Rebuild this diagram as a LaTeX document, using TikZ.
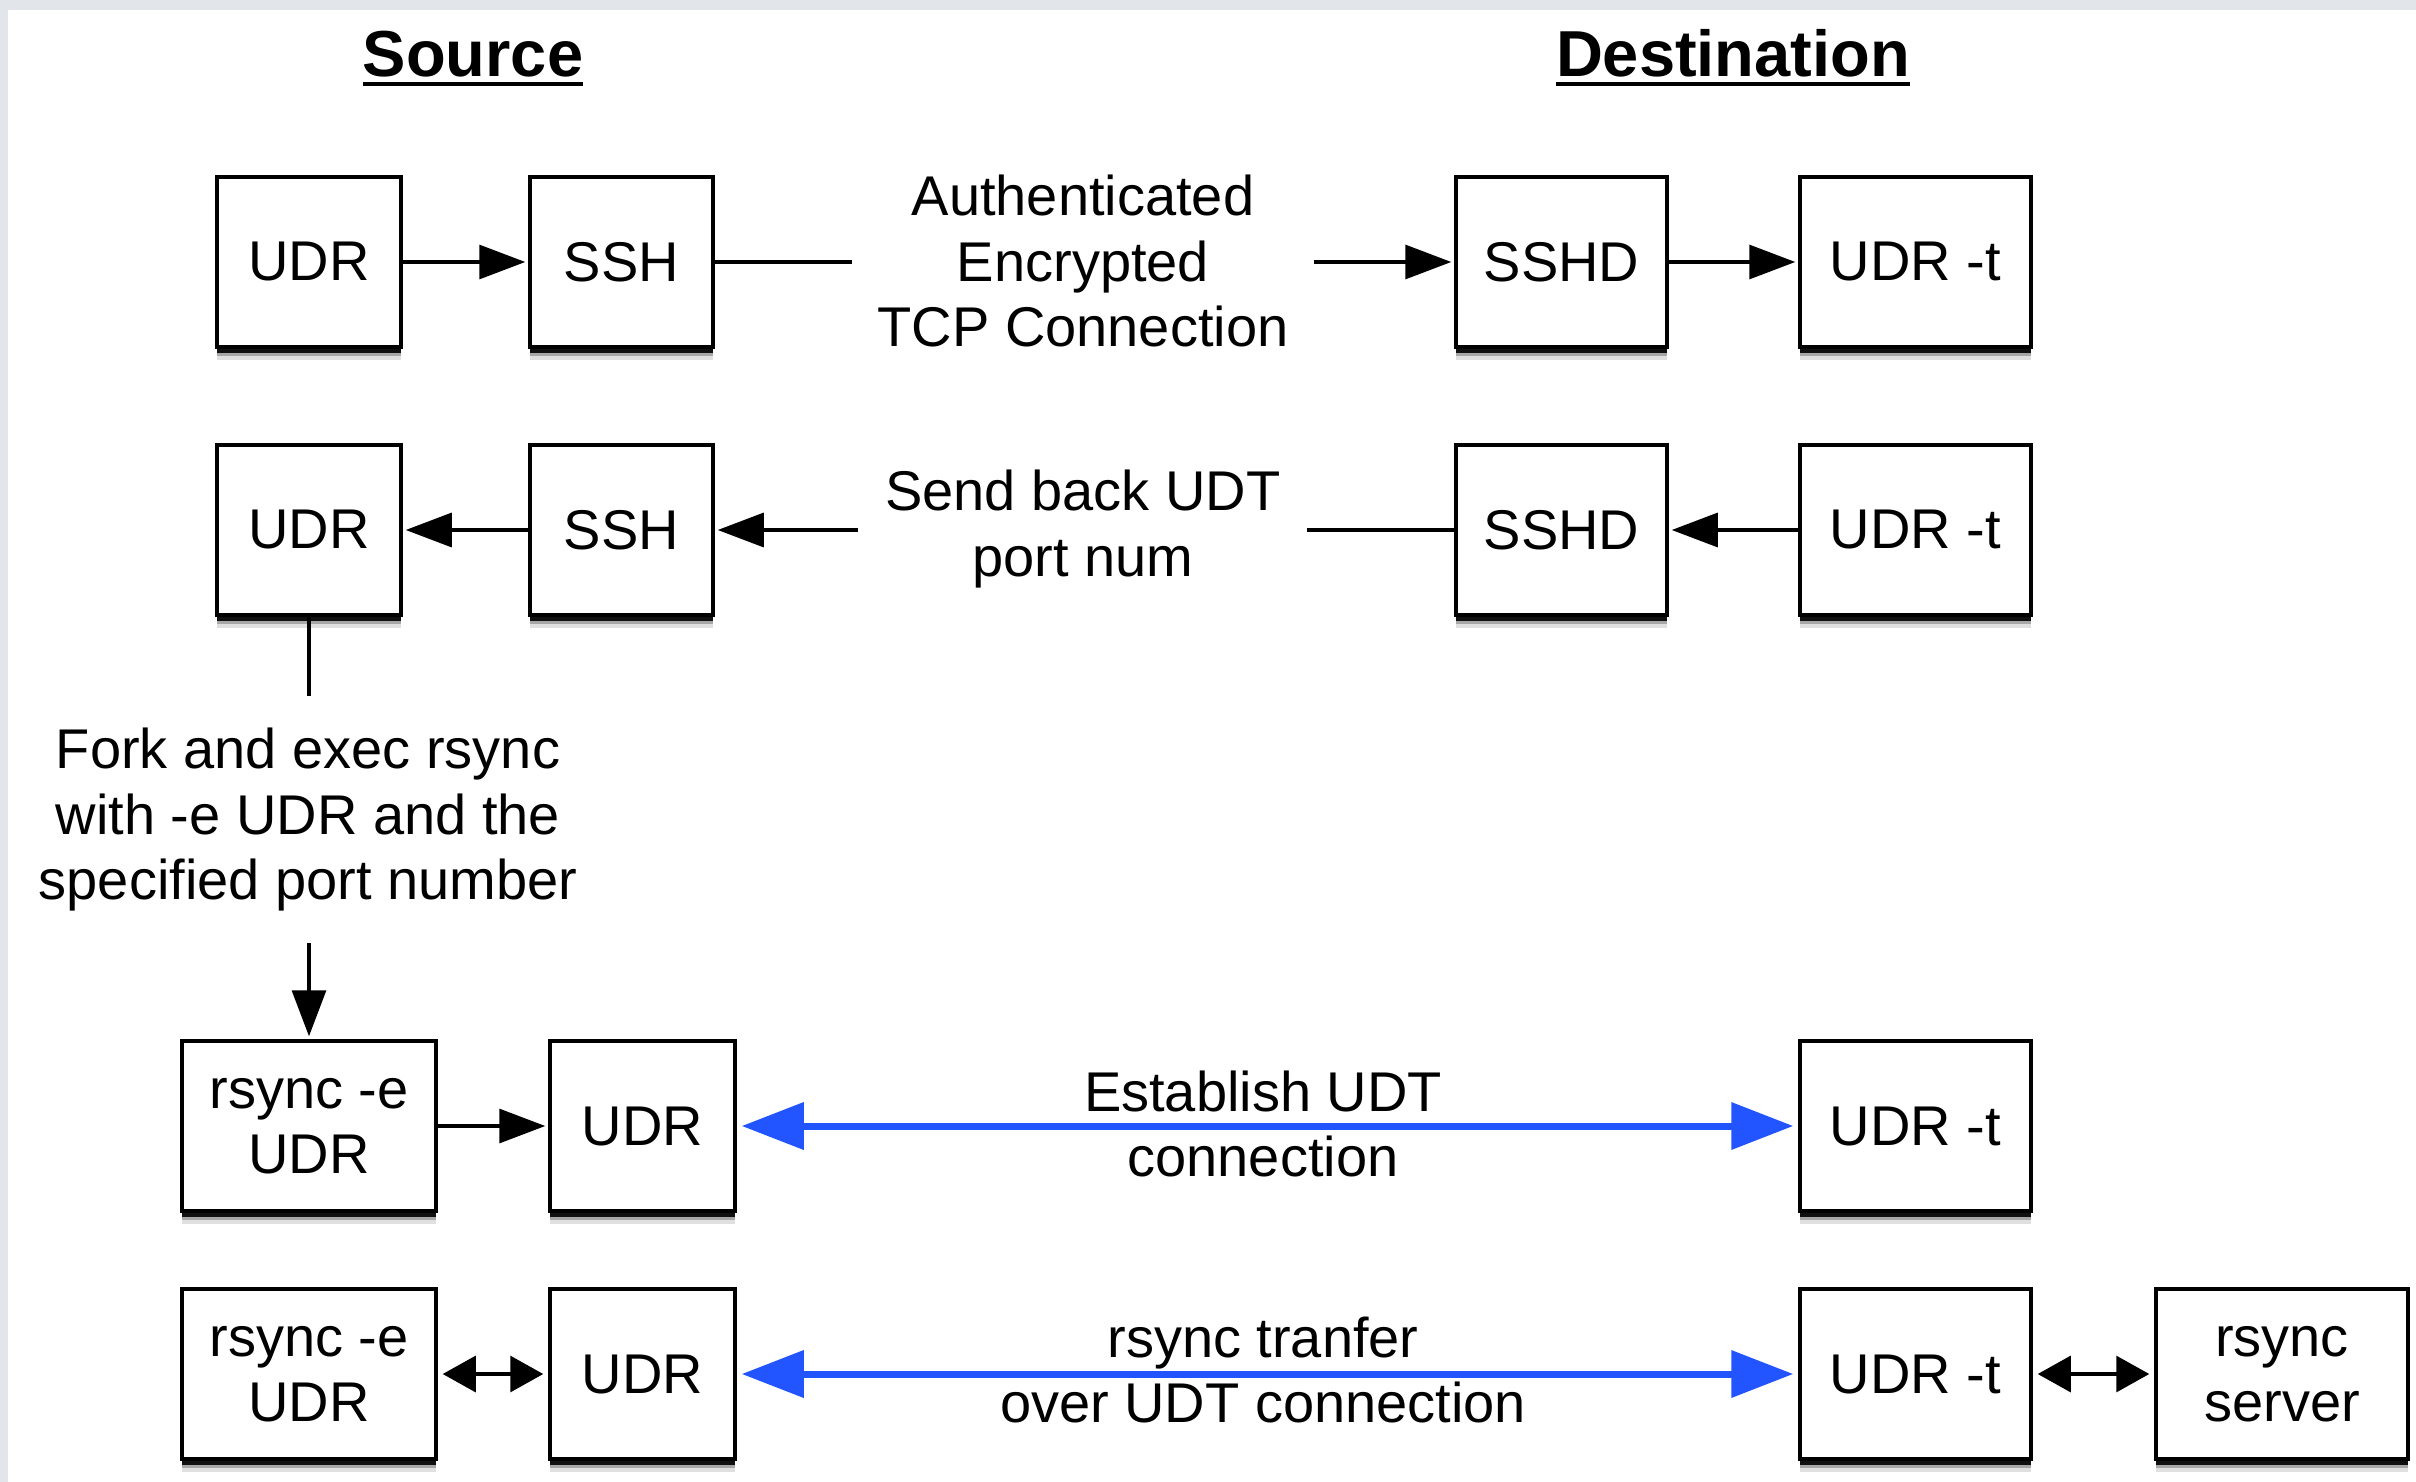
\documentclass[tikz,border=0pt]{standalone}
\usepackage{fontspec}
\setmainfont{Liberation Sans}
\usetikzlibrary{arrows.meta,shadows,calc}
\definecolor{udtblue}{RGB}{34,85,255}
\definecolor{bggray}{RGB}{226,229,234}
\begin{document}
\begin{tikzpicture}[x=1pt,y=-1pt,
  box/.style={draw, line width=3.5pt, fill=white, minimum height=170pt, inner sep=0pt,
    font=\fontsize{56}{65}\selectfont, align=center,
    drop shadow={shadow xshift=0pt,shadow yshift=-13pt,fill=black,opacity=0.12},
    drop shadow={shadow xshift=0pt,shadow yshift=-9pt,fill=black,opacity=0.25},
    drop shadow={shadow xshift=0pt,shadow yshift=-5.5pt,fill=black,opacity=0.9}},
  lbl/.style={font=\fontsize{56}{65.5}\selectfont, align=center, inner sep=0pt},
  title/.style={font=\fontsize{65}{78}\selectfont\bfseries, inner sep=0pt, anchor=base},
  conn/.style={line width=3.2pt},
  arr/.style={conn, -{Triangle[length=46pt,width=34pt]}, shorten >=3pt},
  darr/.style={conn, {Triangle[length=33pt,width=36pt]}-{Triangle[length=33pt,width=36pt]}, shorten >=5pt, shorten <=5pt},
  barr/.style={line width=7pt, udtblue, {Triangle[length=62pt,width=46pt]}-{Triangle[length=62pt,width=46pt]}, shorten >=5pt, shorten <=5pt}
]
\fill[bggray] (0,0) rectangle (2416,1482);
\fill[white] (8,10) rectangle (2416,1482);
\useasboundingbox (0,0) rectangle (2416,1482);

% titles
\node[title] (src) at (473,77) {Source};
\node[title] (dst) at (1733,77) {Destination};
\draw[line width=4pt] ($(src.base west)+(0,7)$) -- ($(src.base east)+(0,7)$);
\draw[line width=4pt] ($(dst.base west)+(0,7)$) -- ($(dst.base east)+(0,7)$);

% row 1
\node[box, minimum width=184pt] (udrA) at (309,262) {UDR};
\node[box, minimum width=183pt] (sshA) at (621.5,262) {SSH};
\node[box, minimum width=211pt] (sshdA) at (1561.5,262) {SSHD};
\node[box, minimum width=231pt] (udrtA) at (1915.5,262) {UDR -t};
\node[lbl] (authlbl) at (1083,261) {Authenticated\\Encrypted\\TCP Connection};
\coordinate (authL) at (852,262);
\coordinate (authR) at (1314,262);
\draw[arr] (udrA) -- (sshA);
\draw[conn] (sshA) -- (authL);
\draw[arr] (authR) -- (sshdA);
\draw[arr] (sshdA) -- (udrtA);

% row 2
\node[box, minimum width=184pt] (udrB) at (309,530) {UDR};
\node[box, minimum width=183pt] (sshB) at (621.5,530) {SSH};
\node[box, minimum width=211pt] (sshdB) at (1561.5,530) {SSHD};
\node[box, minimum width=231pt] (udrtB) at (1915.5,530) {UDR -t};
\node[lbl] (portlbl) at (1083,529) {Send back UDT\\port num};
\coordinate (portL) at (858,530);
\coordinate (portR) at (1307,530);
\draw[arr] (sshB) -- (udrB);
\draw[arr] (portL) -- (sshB);
\draw[conn] (portR) -- (sshdB);
\draw[arr] (udrtB) -- (sshdB);

% fork
\coordinate (forkT) at (309,696);
\coordinate (forkB) at (309,943);
\node[lbl] (forklbl) at (308,820) {Fork and exec rsync\\with -e UDR and the\\specified port number};

% row 3
\node[box, minimum width=254pt] (rsyncC) at (309,1126) {rsync -e\\UDR};
\node[box, minimum width=185pt] (udrC) at (642.5,1126) {UDR};
\node[box, minimum width=231pt] (udrtC) at (1915.5,1126) {UDR -t};
\draw[conn] (udrB) -- (forkT);
\draw[arr] (forkB) -- (rsyncC);
\draw[arr] (rsyncC) -- (udrC);
\draw[barr] (udrC) -- (udrtC);
\node[lbl] (estlbl) at (1263,1124) {Establish UDT\\connection};

% row 4
\node[box, minimum width=254pt] (rsyncD) at (309,1374) {rsync -e\\UDR};
\node[box, minimum width=185pt] (udrD) at (642.5,1374) {UDR};
\node[box, minimum width=231pt] (udrtD) at (1915.5,1374) {UDR -t};
\node[box, minimum width=252pt] (srvD) at (2282,1374) {rsync\\server};
\draw[darr] (rsyncD) -- (udrD);
\draw[barr] (udrD) -- (udrtD);
\draw[darr] (udrtD) -- (srvD);
\node[lbl] (xferlbl) at (1263,1370) {rsync tranfer\\over UDT connection};
\end{tikzpicture}
\end{document}
